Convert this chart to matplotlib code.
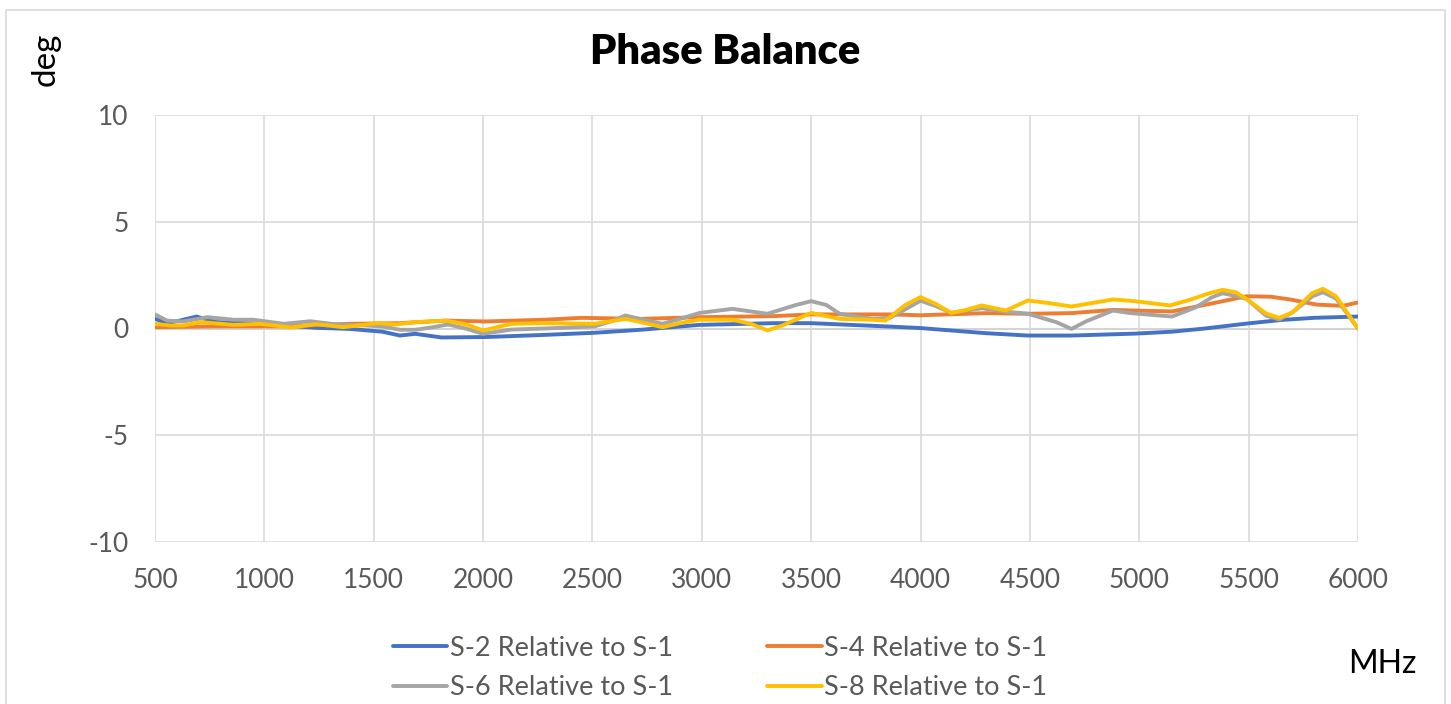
import matplotlib

matplotlib.use("Agg")
import matplotlib.pyplot as plt
from matplotlib.patches import Rectangle

# --- values (MHz, deg) -------------------------------------------------------
S2_MHZ = [500, 555, 600, 690, 780, 990, 1240, 1390, 1540, 1620, 1690, 1810,
          2010, 2280, 2510, 2720, 2990, 3330, 3500, 3860, 4000, 4300, 4490,
          4690, 4980, 5150, 5300, 5490, 5650, 5800, 6000]
S2_DEG = [0.45, 0.25, 0.34, 0.56, 0.3, 0.22, 0.03, -0.02, -0.15, -0.33, -0.25,
          -0.42, -0.4, -0.3, -0.2, -0.06, 0.17, 0.25, 0.25, 0.09, 0.02, -0.22,
          -0.33, -0.33, -0.24, -0.15, 0.0, 0.23, 0.4, 0.5, 0.56]

S4_MHZ = [500, 780, 1090, 1390, 1620, 1830, 2010, 2280, 2450, 2720, 2990,
          3330, 3500, 3860, 4000, 4300, 4490, 4690, 4880, 4980, 5150, 5340,
          5490, 5600, 5690, 5810, 5930, 6000]
S4_DEG = [0.06, 0.1, 0.1, 0.22, 0.25, 0.37, 0.33, 0.41, 0.5, 0.45, 0.53, 0.58,
          0.66, 0.66, 0.62, 0.72, 0.69, 0.72, 0.87, 0.84, 0.8, 1.19, 1.51, 1.49,
          1.36, 1.12, 1.06, 1.22]

S6_MHZ = [500, 555, 630, 740, 860, 950, 1090, 1210, 1330, 1470, 1540, 1620,
          1690, 1770, 1840, 1920, 2000, 2130, 2280, 2510, 2590, 2650, 2740,
          2820, 2900, 2990, 3140, 3300, 3430, 3500, 3570, 3630, 3780, 3860,
          3920, 4000, 4070, 4140, 4280, 4390, 4490, 4620, 4690, 4760, 4880,
          4960, 5150, 5260, 5330, 5380, 5430, 5490, 5580, 5640, 5700, 5790,
          5840, 5900, 5950, 6000]
S6_DEG = [0.66, 0.37, 0.33, 0.53, 0.41, 0.41, 0.22, 0.34, 0.19, 0.14, 0.1,
          -0.06, -0.06, 0.06, 0.19, 0.0, -0.25, -0.05, 0.0, 0.1, 0.35, 0.61,
          0.4, 0.22, 0.45, 0.73, 0.92, 0.69, 1.1, 1.28, 1.1, 0.69, 0.45, 0.5,
          0.84, 1.3, 1.05, 0.73, 0.95, 0.79, 0.69, 0.3, -0.02, 0.35, 0.84,
          0.72, 0.56, 1.0, 1.45, 1.65, 1.55, 1.39, 0.6, 0.42, 0.75, 1.5, 1.7,
          1.4, 0.7, -0.01]

S8_MHZ = [500, 570, 630, 710, 860, 980, 1120, 1240, 1360, 1520, 1600, 1690,
          1830, 1920, 2000, 2070, 2130, 2280, 2510, 2650, 2720, 2820, 2900,
          2990, 3140, 3230, 3300, 3370, 3500, 3630, 3780, 3840, 3930, 4000,
          4070, 4140, 4200, 4280, 4390, 4490, 4580, 4690, 4880, 4980, 5140,
          5230, 5320, 5380, 5440, 5490, 5580, 5640, 5700, 5790, 5840, 5900,
          5950, 6000]
S8_DEG = [0.22, 0.14, 0.14, 0.3, 0.17, 0.22, 0.05, 0.2, 0.06, 0.25, 0.19, 0.3,
          0.37, 0.2, -0.09, 0.08, 0.22, 0.25, 0.22, 0.45, 0.3, 0.06, 0.25,
          0.41, 0.41, 0.2, -0.09, 0.15, 0.73, 0.45, 0.41, 0.37, 1.1, 1.47,
          1.15, 0.73, 0.85, 1.08, 0.84, 1.31, 1.2, 1.03, 1.36, 1.28, 1.08,
          1.34, 1.65, 1.81, 1.7, 1.39, 0.7, 0.5, 0.75, 1.65, 1.86, 1.5, 0.75,
          0.0]

SERIES = [
    ("S-2 Relative to S-1", S2_MHZ, S2_DEG, "#4472C4"),
    ("S-4 Relative to S-1", S4_MHZ, S4_DEG, "#ED7D31"),
    ("S-6 Relative to S-1", S6_MHZ, S6_DEG, "#A5A5A5"),
    ("S-8 Relative to S-1", S8_MHZ, S8_DEG, "#FFC000"),
]
X_TICKS = list(range(500, 6001, 500))
Y_TICKS = [-10, -5, 0, 5, 10]

plt.rcParams["font.family"] = ["Lato", "DejaVu Sans"]
plt.rcParams["axes.unicode_minus"] = False
TICK_COLOR = "#595959"

fig = plt.figure(figsize=(14.51, 7.04), dpi=100)
fig.patches.append(Rectangle((6 / 1451, -0.1), 1439 / 1451, 1 - 10 / 704 + 0.1,
                             transform=fig.transFigure, fill=False,
                             edgecolor="#D9D9D9", lw=1.2))

ax = fig.add_axes([155 / 1451, 1 - 542 / 704, 1203 / 1451, 427 / 704])
lines = {}
for name, xs, ys, col in SERIES:
    (lines[name],) = ax.plot(xs, ys, color=col, lw=2.8, label=name,
                             solid_joinstyle="round", solid_capstyle="round",
                             zorder=3)

ax.set_xlim(500, 6000)
ax.set_ylim(-10, 10)
ax.set_xticks(X_TICKS)
ax.set_yticks(Y_TICKS)
ax.grid(True, color="#D9D9D9", lw=1.2, zorder=0)
ax.axhline(0, color="#BFBFBF", lw=1.4, zorder=1)
for s in ax.spines.values():
    s.set_visible(False)
ax.tick_params(length=0, labelsize=19, labelcolor=TICK_COLOR)
ax.tick_params(axis="x", pad=19)
ax.tick_params(axis="y", pad=19)

fig.text(725 / 1451, 1 - 52 / 704, "Phase Balance", ha="center", va="center",
         fontsize=30, fontweight="heavy", color="black")
fig.text(46 / 1451, 1 - 59 / 704, "deg", rotation=90, ha="center",
         va="center", fontsize=24, color="black")
fig.text(1382 / 1451, 1 - 664 / 704, "MHz", ha="center", va="center",
         fontsize=23, color="black")

# row-wise legend order: S-2, S-4 / S-6, S-8
order = [SERIES[i][0] for i in (0, 2, 1, 3)]
leg = ax.legend([lines[n] for n in order], order, loc="center",
                bbox_to_anchor=(720 / 1451, 1 - 668 / 704),
                bbox_transform=fig.transFigure, ncol=2, frameon=False,
                fontsize=19.5, handlelength=2.0, handletextpad=0.08,
                columnspacing=3.5, labelspacing=0.55)
for t in leg.get_texts():
    t.set_color(TICK_COLOR)

fig.savefig("out.png", dpi=100)
